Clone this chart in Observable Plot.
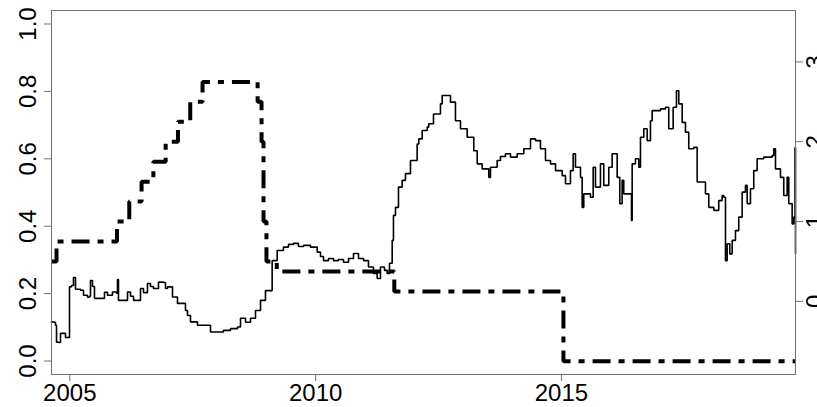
<!DOCTYPE html>
<html>
<head>
<meta charset="utf-8">
<script src="https://cdn.jsdelivr.net/npm/d3@7"></script>
<script src="https://cdn.jsdelivr.net/npm/@observablehq/plot@0.6"></script>
<style>
  html, body { margin: 0; padding: 0; background: #fff; }
  #chart svg { display: block; }
</style>
</head>
<body>
<div id="chart"></div>
<script>
// Solid series (left axis, 0..1)
const solidYear = [
  2004.628, 2004.668, 2004.709, 2004.730, 2004.770, 2004.811, 2004.872, 2004.913, 2004.974, 2004.994,
  2005.034, 2005.075, 2005.116, 2005.218, 2005.279, 2005.360, 2005.401, 2005.421, 2005.462, 2005.502,
  2005.624, 2005.706, 2005.767, 2005.868, 2005.950, 2005.970, 2005.990, 2006.092, 2006.174, 2006.235,
  2006.296, 2006.397, 2006.438, 2006.499, 2006.580, 2006.641, 2006.702, 2006.804, 2006.906, 2006.946,
  2006.987, 2007.089, 2007.190, 2007.251, 2007.353, 2007.394, 2007.455, 2007.597, 2007.719, 2007.862,
  2008.004, 2008.126, 2008.269, 2008.411, 2008.472, 2008.574, 2008.675, 2008.777, 2008.879, 2008.980,
  2009.116, 2009.218, 2009.346, 2009.448, 2009.550, 2009.651, 2009.753, 2009.895, 2010.032, 2010.099,
  2010.160, 2010.262, 2010.364, 2010.465, 2010.567, 2010.669, 2010.770, 2010.872, 2010.974, 2011.075,
  2011.177, 2011.252, 2011.319, 2011.400, 2011.455, 2011.502, 2011.557, 2011.583, 2011.624, 2011.685,
  2011.760, 2011.827, 2011.929, 2011.964, 2012.065, 2012.098, 2012.167, 2012.269, 2012.301, 2012.397,
  2012.438, 2012.539, 2012.574, 2012.676, 2012.743, 2012.844, 2012.946, 2013.082, 2013.217, 2013.286,
  2013.387, 2013.489, 2013.522, 2013.556, 2013.692, 2013.760, 2013.861, 2013.963, 2014.099, 2014.234,
  2014.370, 2014.472, 2014.573, 2014.675, 2014.777, 2014.879, 2015.014, 2015.082, 2015.183, 2015.238,
  2015.285, 2015.387, 2015.421, 2015.454, 2015.590, 2015.645, 2015.692, 2015.793, 2015.860, 2015.962,
  2016.031, 2016.098, 2016.133, 2016.186, 2016.234, 2016.267, 2016.403, 2016.424, 2016.438, 2016.505,
  2016.572, 2016.607, 2016.674, 2016.743, 2016.810, 2016.845, 2017.014, 2017.116, 2017.182, 2017.252,
  2017.272, 2017.339, 2017.386, 2017.455, 2017.522, 2017.589, 2017.691, 2017.760, 2017.862, 2017.929,
  2017.996, 2018.098, 2018.199, 2018.268, 2018.301, 2018.336, 2018.370, 2018.423, 2018.472, 2018.539,
  2018.606, 2018.675, 2018.742, 2018.777, 2018.844, 2018.911, 2018.980, 2019.114, 2019.285, 2019.318,
  2019.353, 2019.454, 2019.521, 2019.590, 2019.623, 2019.692, 2019.725, 2019.750, 2019.760
];
const solidValue = [
  0.116, 0.115, 0.106, 0.056, 0.055, 0.082, 0.082, 0.070, 0.070, 0.220,
  0.224, 0.248, 0.213, 0.210, 0.195, 0.189, 0.192, 0.239, 0.221, 0.186,
  0.186, 0.204, 0.195, 0.205, 0.201, 0.242, 0.180, 0.180, 0.205, 0.192,
  0.180, 0.180, 0.215, 0.203, 0.230, 0.221, 0.215, 0.234, 0.233, 0.215,
  0.220, 0.190, 0.171, 0.171, 0.150, 0.135, 0.116, 0.106, 0.106, 0.086,
  0.086, 0.091, 0.096, 0.101, 0.127, 0.115, 0.127, 0.150, 0.180, 0.209,
  0.298, 0.328, 0.338, 0.346, 0.349, 0.340, 0.343, 0.338, 0.323, 0.310,
  0.298, 0.304, 0.298, 0.301, 0.293, 0.304, 0.319, 0.304, 0.298, 0.279,
  0.260, 0.245, 0.279, 0.269, 0.260, 0.290, 0.358, 0.432, 0.456, 0.516,
  0.536, 0.556, 0.595, 0.595, 0.644, 0.659, 0.684, 0.694, 0.704, 0.733,
  0.733, 0.763, 0.788, 0.788, 0.768, 0.713, 0.689, 0.664, 0.624, 0.585,
  0.570, 0.570, 0.545, 0.575, 0.595, 0.607, 0.615, 0.605, 0.615, 0.630,
  0.659, 0.654, 0.630, 0.595, 0.585, 0.565, 0.550, 0.526, 0.565, 0.615,
  0.575, 0.545, 0.456, 0.496, 0.486, 0.575, 0.516, 0.585, 0.521, 0.575,
  0.615, 0.615, 0.545, 0.467, 0.536, 0.496, 0.496, 0.417, 0.585, 0.600,
  0.575, 0.664, 0.689, 0.654, 0.713, 0.743, 0.748, 0.753, 0.689, 0.689,
  0.753, 0.802, 0.763, 0.708, 0.679, 0.630, 0.634, 0.531, 0.531, 0.496,
  0.456, 0.447, 0.476, 0.491, 0.486, 0.298, 0.348, 0.318, 0.358, 0.387,
  0.427, 0.501, 0.521, 0.467, 0.511, 0.565, 0.600, 0.605, 0.610, 0.630,
  0.570, 0.545, 0.491, 0.545, 0.467, 0.407, 0.427, 0.633, 0.318
];

// Dashed step series (right axis, policy rate %)
const rateYear = [
  2004.628, 2004.730, 2005.960, 2006.210, 2006.460, 2006.700, 2006.950, 2007.200, 2007.450, 2007.700,
  2008.820, 2008.900, 2008.940, 2009.000, 2009.210, 2011.600, 2015.040, 2019.760
];
const rateValue = [
  0.5, 0.75, 1.0, 1.25, 1.5, 1.75, 2.0, 2.25, 2.5, 2.75,
  2.5, 2.0, 1.0, 0.5, 0.375, 0.125, -0.75, -0.75
];

// Tick labels
const xTicks = [2005, 2010, 2015];
const leftTicks = [0, 0.2, 0.4, 0.6, 0.8, 1.0];
const rightTicks = [0, 1, 2, 3];

// right-axis units expressed on the left scale
const rightToLeft = r => 0.177 + 0.2368 * r;

const solid = solidYear.map((x, i) => ({x, y: solidValue[i]}));
const rate = rateYear.map((x, i) => ({x, y: rightToLeft(rateValue[i])}));

const axisColor = "#707070";

const chart = Plot.plot({
  width: 817,
  height: 407,
  marginLeft: 51,
  marginRight: 22,
  marginTop: 10,
  marginBottom: 33,
  style: {fontFamily: "Arimo, 'Liberation Sans', Arial, Helvetica, sans-serif", fontSize: "24px", color: "#000", background: "#fff"},
  x: {domain: [2004.628, 2019.76]},
  y: {domain: [-0.04, 1.04]},
  marks: [
    Plot.line(rate, {x: "x", y: "y", curve: "step-after", stroke: "#000", strokeWidth: 4,
      strokeDasharray: "18,8,6,8", strokeLinecap: "butt", strokeLinejoin: "miter"}),
    Plot.line(solid, {x: "x", y: "y", curve: "step-after", stroke: "#000", strokeWidth: 1.6, strokeLinejoin: "miter"}),
    Plot.frame({stroke: axisColor, strokeWidth: 1}),
    Plot.axisX({ticks: xTicks, tickFormat: d => String(d), tickSize: 7, tickPadding: 2,
      stroke: axisColor, fill: "#000", fontSize: 24, label: null}),
    Plot.axisY({ticks: leftTicks, tickFormat: d => d.toFixed(1), tickSize: 7, tickPadding: 9,
      tickRotate: -90, textAnchor: "middle", lineAnchor: "bottom",
      stroke: axisColor, fill: "#000", fontSize: 24, label: null}),
    Plot.axisY({anchor: "right", ticks: rightTicks.map(rightToLeft),
      tickFormat: (d, i) => String(rightTicks[i]), tickSize: 7, tickPadding: 3,
      tickRotate: -90, textAnchor: "middle", lineAnchor: "top",
      stroke: axisColor, fill: "#000", fontSize: 24, label: null})
  ]
});
document.getElementById("chart").appendChild(chart);
</script>
</body>
</html>
